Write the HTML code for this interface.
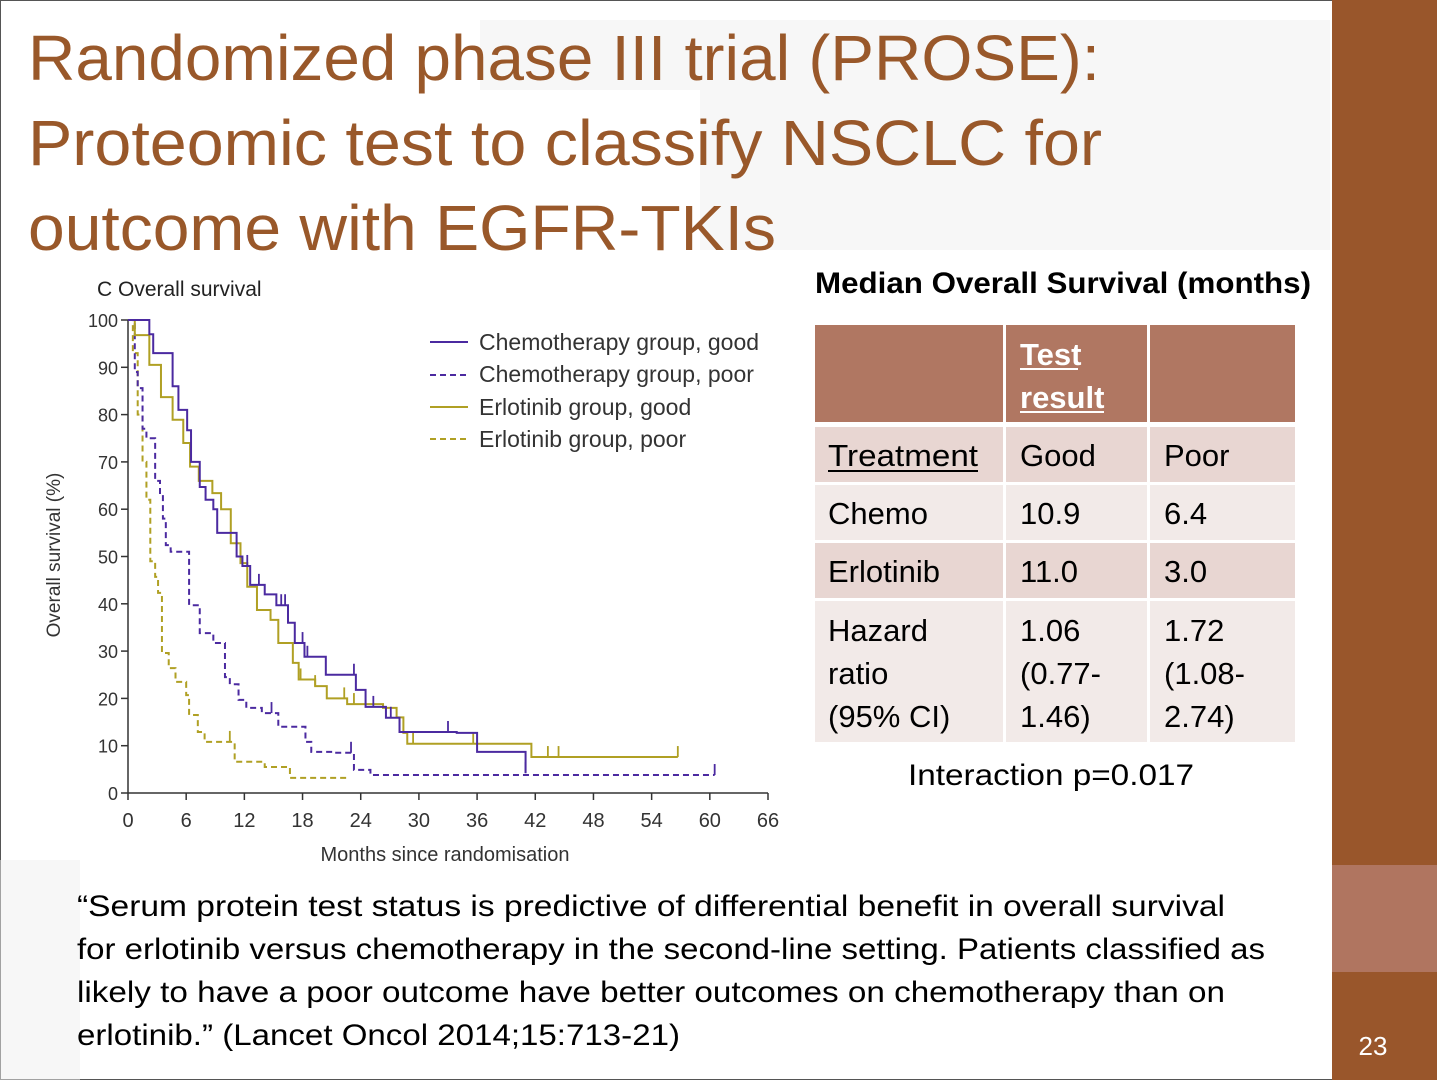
<!DOCTYPE html>
<html><head><meta charset="utf-8">
<style>
html,body{margin:0;padding:0;background:#fff;}
body{width:1437px;height:1080px;overflow:hidden;position:relative;font-family:"Liberation Sans",sans-serif;}
svg{position:absolute;left:0;top:0;}
</style></head>
<body>
<svg id="slide" width="1437" height="1080" viewBox="0 0 1437 1080" xmlns="http://www.w3.org/2000/svg">
  <rect x="0" y="0" width="1437" height="1080" fill="#ffffff"/>
  <rect x="0.5" y="0.5" width="1436" height="1079" fill="none" stroke="#555" stroke-width="1"/>
  <g fill="#f0f0f0" opacity="0.5">
    <rect x="480" y="20" width="850" height="70"/>
    <rect x="700" y="90" width="630" height="160"/>
    <rect x="0" y="860" width="80" height="220"/>
  </g>
  <rect x="1332" y="0" width="105" height="1080" fill="#99562b"/>
  <rect x="1332" y="865" width="105" height="107" fill="#b07560"/>
  <text x="1373" y="1055" fill="#fff" font-size="26" text-anchor="middle">23</text>

  <g fill="#99582a" font-size="64">
    <text x="28" y="80" textLength="1072" lengthAdjust="spacingAndGlyphs">Randomized phase III trial (PROSE):</text>
    <text x="28" y="165" textLength="1074" lengthAdjust="spacingAndGlyphs">Proteomic test to classify NSCLC for</text>
    <text x="28" y="250" textLength="748" lengthAdjust="spacingAndGlyphs">outcome with EGFR-TKIs</text>
  </g>

  <g id="chart" font-family="'Liberation Sans Narrow','Liberation Sans',sans-serif" fill="#333">
    <text x="97" y="296" font-size="21" fill="#222">C  Overall survival</text>
    <g id="axes"></g>
    <g id="series"></g>
    <text x="445" y="861" font-size="20" text-anchor="middle">Months since randomisation</text>
    <text transform="translate(60,555) rotate(-90)" font-size="19" text-anchor="middle">Overall survival (%)</text>
    <g font-size="23">
      <g><line x1="430" y1="342" x2="468" y2="342" stroke="#4b2aa0" stroke-width="2"/><text x="479" y="350">Chemotherapy group, good</text></g>
      <g><line x1="430" y1="375" x2="468" y2="375" stroke="#4b2aa0" stroke-width="2" stroke-dasharray="6,4"/><text x="479" y="382">Chemotherapy group, poor</text></g>
      <g><line x1="430" y1="407" x2="468" y2="407" stroke="#b0a024" stroke-width="2"/><text x="479" y="415">Erlotinib group, good</text></g>
      <g><line x1="430" y1="439" x2="468" y2="439" stroke="#b0a024" stroke-width="2" stroke-dasharray="6,4"/><text x="479" y="447">Erlotinib group, poor</text></g>
    </g>
  </g>

  <text x="1063" y="293" font-size="30" font-weight="bold" fill="#000" text-anchor="middle" textLength="496" lengthAdjust="spacingAndGlyphs">Median Overall Survival (months)</text>
  <g font-size="31" fill="#000">
    <rect x="815" y="325" width="188" height="97" fill="#b07762"/>
    <rect x="1006" y="325" width="141" height="97" fill="#b07762"/>
    <rect x="1150" y="325" width="145" height="97" fill="#b07762"/>
    <text x="1020" y="365" font-weight="bold" fill="#fff">Test</text>
    <text x="1020" y="408" font-weight="bold" fill="#fff">result</text>
    <line x1="1020" y1="369" x2="1078" y2="369" stroke="#fff" stroke-width="2"/>
    <line x1="1020" y1="412" x2="1104" y2="412" stroke="#fff" stroke-width="2"/>

    <rect x="815" y="427" width="188" height="55" fill="#e8d6d2"/><rect x="1006" y="427" width="141" height="55" fill="#e8d6d2"/><rect x="1150" y="427" width="145" height="55" fill="#e8d6d2"/>
    <rect x="815" y="485" width="188" height="55" fill="#f2eae8"/><rect x="1006" y="485" width="141" height="55" fill="#f2eae8"/><rect x="1150" y="485" width="145" height="55" fill="#f2eae8"/>
    <rect x="815" y="543" width="188" height="55" fill="#e8d6d2"/><rect x="1006" y="543" width="141" height="55" fill="#e8d6d2"/><rect x="1150" y="543" width="145" height="55" fill="#e8d6d2"/>
    <rect x="815" y="601" width="188" height="141" fill="#f2eae8"/><rect x="1006" y="601" width="141" height="141" fill="#f2eae8"/><rect x="1150" y="601" width="145" height="141" fill="#f2eae8"/>

    <text x="828" y="466" textLength="150" lengthAdjust="spacingAndGlyphs">Treatment</text><line x1="828" y1="471" x2="978" y2="471" stroke="#000" stroke-width="2"/>
    <text x="1020" y="466">Good</text><text x="1164" y="466">Poor</text>
    <text x="828" y="524">Chemo</text><text x="1020" y="524">10.9</text><text x="1164" y="524">6.4</text>
    <text x="828" y="582">Erlotinib</text><text x="1020" y="582">11.0</text><text x="1164" y="582">3.0</text>
    <text x="828" y="641">Hazard</text><text x="1020" y="641">1.06</text><text x="1164" y="641">1.72</text>
    <text x="828" y="684">ratio</text><text x="1020" y="684">(0.77-</text><text x="1164" y="684">(1.08-</text>
    <text x="828" y="727">(95% CI)</text><text x="1020" y="727">1.46)</text><text x="1164" y="727">2.74)</text>
  </g>
  <text x="1051" y="785" font-size="30" text-anchor="middle" fill="#000" textLength="286" lengthAdjust="spacingAndGlyphs">Interaction p=0.017</text>

  <g font-size="30" fill="#000">
    <text x="77" y="916" textLength="1148" lengthAdjust="spacingAndGlyphs">“Serum protein test status is predictive of differential benefit in overall survival</text>
    <text x="77" y="959" textLength="1188" lengthAdjust="spacingAndGlyphs">for erlotinib versus chemotherapy in the second-line setting. Patients classified as</text>
    <text x="77" y="1002" textLength="1148" lengthAdjust="spacingAndGlyphs">likely to have a poor outcome have better outcomes on chemotherapy than on</text>
    <text x="77" y="1045" textLength="603" lengthAdjust="spacingAndGlyphs">erlotinib.” (Lancet Oncol 2014;15:713-21)</text>
  </g>
</svg>
<script>
const xTicks = [0,6,12,18,24,30,36,42,48,54,60,66];
const yTicks = [0,10,20,30,40,50,60,70,80,90,100];
const chemoGoodT = [0,1.75,2.2,2.6,4.0,4.6,5.2,6.1,6.5,7.4,8.0,8.8,9.2,10.4,11.2,11.8,12.6,14.1,15.3,16.5,17.2,18.2,20.4,23.5,24.5,26.6,28,33.9,36,41];
const chemoGoodS = [100,100,97,93,93,86,81,76.7,70,64.7,62,60,55,55,50,48,44,42,39.7,36,31.7,28.8,25,21.8,18.2,15.9,12.9,12.7,8.7,4.2];
const chemoPoorT = [0,0.7,1.0,1.5,1.9,2.8,3.3,3.6,3.9,4.4,6.3,7.4,8.8,10,10.5,11.4,12.2,13.8,15.5,18.3,18.9,21.2,23.3,25,60.5];
const chemoPoorS = [100,89,85.6,77,75,66,63,58,52.4,51,39.7,33.8,31.7,24.5,23,19.7,18,16.9,14,10.8,8.7,8.5,4.9,3.8,3.8];
const erloGoodT = [0,0.7,1.7,2.2,3.4,4.6,5.7,6.4,7.3,8.7,9.6,10.6,11.6,12.3,13.3,14.7,15.5,17,17.6,19.3,20.5,22.6,26.3,27.7,28.4,28.8,41.6,56.7];
const erloGoodS = [100,96.8,96.8,90.5,83.7,78.9,74,69,66,63.4,60,52.8,48.6,43.6,38.7,36.6,31.7,27.5,24,22.6,20,18.8,18,16,12.7,10.4,7.6,7.6];
const erloPoorT = [0,0.5,1.0,1.5,1.9,2.3,2.8,3.1,3.5,4.2,4.9,6.0,6.3,7.2,7.9,11,14.1,16.7,22.9];
const erloPoorS = [100,93,80,70,62,49,45.7,42.3,29.6,26.4,23.5,20.7,16.5,12.9,10.8,6.6,5.5,3.2,3.2];
const censorChemoGood = [12.3,13.5,15.8,16.2,18.0,18.5,23.3,25.3,27.1,33.0,41];
const censorErloGood = [17.8,19.3,22.3,23.3,29.4,35.6,43.3,44.4,56.7];
const censorChemoPoor = [14.8,23.0,60.5];
const censorErloPoor = [10.5];

const NS='http://www.w3.org/2000/svg';
const X0=128, X1=768, Y0=793, Y1=320;
function xs(t){return X0+(t/66)*(X1-X0);}
function ys(s){return Y0-(s/100)*(Y0-Y1);}
function mk(tag,attrs,parent){const e=document.createElementNS(NS,tag);for(const k in attrs)e.setAttribute(k,attrs[k]);parent.appendChild(e);return e;}

const axes=document.getElementById('axes');
const xl=mk('line',{x1:X0,y1:Y0,x2:X1,y2:Y0,stroke:'#333','stroke-width':1.5},axes);


const yl=mk('line',{x1:X0,y1:Y0,x2:X0,y2:Y1,stroke:'#333','stroke-width':1.5},axes);


xTicks.forEach(t=>{
  mk('line',{x1:xs(t),y1:Y0,x2:xs(t),y2:Y0+7,stroke:'#333','stroke-width':1.5},axes);
  const tx=mk('text',{x:xs(t),y:Y0+34,'font-size':20,'text-anchor':'middle',fill:'#333'},axes);
  tx.textContent=t;
  
  
});
yTicks.forEach(s=>{
  mk('line',{x1:X0-7,y1:ys(s),x2:X0,y2:ys(s),stroke:'#333','stroke-width':1.5},axes);
  const tx=mk('text',{x:X0-10,y:ys(s)+7,'font-size':18,'text-anchor':'end',fill:'#333'},axes);
  tx.textContent=s;
  
  
});

function survAt(T,S,t){let v=S[0];for(let i=0;i<T.length;i++){if(T[i]<=t)v=S[i];}return v;}
const series=document.getElementById('series');
function drawSeries(T,S,color,dash,name,censors){
  let d='M'+xs(T[0])+','+ys(S[0]);
  for(let i=1;i<T.length;i++){d+=' H'+xs(T[i])+' V'+ys(S[i]);}
  const p=mk('path',{d:d,fill:'none',stroke:color,'stroke-width':2},series);
  if(dash)p.setAttribute('stroke-dasharray','6,4');
  
  
  censors.forEach(c=>{
    const y=ys(survAt(T,S,c));
    const l=mk('line',{x1:xs(c),y1:y,x2:xs(c),y2:y-11,stroke:color,'stroke-width':1.8},series);
    
    
  });
}
drawSeries(erloPoorT,erloPoorS,'#b0a024',true,'erlotinib-poor-line',censorErloPoor);
drawSeries(chemoPoorT,chemoPoorS,'#4b2aa0',true,'chemo-poor-line',censorChemoPoor);
drawSeries(erloGoodT,erloGoodS,'#b0a024',false,'erlotinib-good-line',censorErloGood);
drawSeries(chemoGoodT,chemoGoodS,'#4b2aa0',false,'chemo-good-line',censorChemoGood);
</script>
</body></html>
